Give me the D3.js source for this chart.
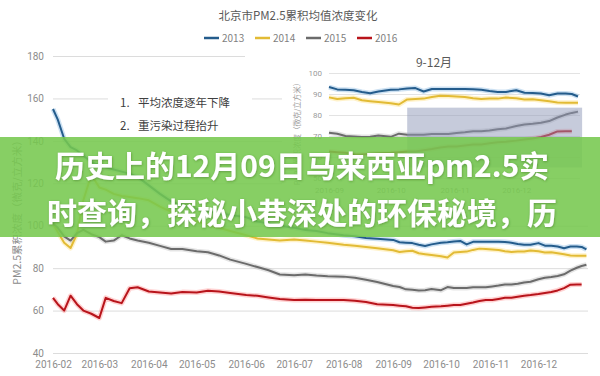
<!DOCTYPE html>
<html>
<head>
<meta charset="utf-8">
<script src="https://cdn.jsdelivr.net/npm/d3@7"></script>
<style>
  body { margin: 0; background: #fff; }
  svg { display: block; font-family: "Noto Sans CJK SC", "Noto Sans", sans-serif; }
</style>
</head>
<body>
<svg id="chart" width="600" height="376"></svg>
<script>
// days of 2016 (MM-DD) shared by all series
const days = [
  "02-01","02-04","02-08","02-12","02-16","02-20","02-25",
  "03-01","03-05","03-10","03-15","03-20","03-25",
  "04-01","04-08","04-15","04-22",
  "05-01","05-08","05-15","05-22",
  "06-01","06-08","06-15","06-22",
  "07-01","07-08","07-15","07-22",
  "08-01","08-08","08-15","08-22",
  "09-01","09-05","09-09","09-13","09-17","09-21","09-25",
  "10-01","10-05","10-09","10-13","10-17","10-21","10-25","10-29",
  "11-02","11-06","11-10","11-14","11-18","11-22","11-26",
  "12-01","12-05","12-09","12-13","12-17","12-21","12-25","12-28","12-31"
];
const pm2013 = [155,150,141,137,135.5,133,130, 128.5,127.5,126.5,125.5,124.5,123, 119,115,111.5,109.5,
  108,107,106,105, 104,102,101,100, 99,98,97.5,96.5, 95.5,95,94.2,93.8,
  93.3,92.2,92,91.8,91,90.4,91.2, 92,92.2,92.6,92.8,91.2,92.4,92.4,92.4,
  92.4,92.4,92.3,92,91.4,91,91, 91.8,90.6,90.5,90.2,89.4,90.2,90.2,90,88.8];
const pm2014 = [101,97,92,89.5,96,112,124, 118,117,115,114,113.5,113, 112,109,106.5,104,
  102,100.5,99,97.5, 95.5,94,93.5,93, 93.5,93,92.5,92, 91,90.5,90,89.4,
  88.4,87.6,88,88.2,87,86.6,86.2, 85.6,85,87.4,87.6,87.8,88.6,89.2,89,
  88.8,88.6,88,87.6,87.8,87.8,88.3, 88,87.4,87.5,87,86.5,86,85.8,85.8,85.8];
const pm2015 = [101,99,95,93,96.5,98,96, 94.6,92.5,93,95.5,94,93, 92,90.5,89,89,
  88,87.5,86,84, 82,80.5,79,77, 76.7,77,76.5,76.2, 76,75.5,74.5,73.5,
  71.6,71.1,70,69.8,69.5,69.6,70.2, 69.6,71.1,70.6,70.6,70.6,71,71,71,
  71.4,71.8,72.3,72.3,72.6,73.2,73.6, 74.8,75.5,75.8,76.3,77.1,78.8,80.2,81,81.6];
const pm2016 = [66,63,60,67,63,60,58.5, 56.5,66,64.5,63.5,70.5,71, 69,68.5,68,68.7,
  68.5,69.3,69,68.3, 67.3,67,66.2,65.5, 65,65.1,65,65, 65,64.6,64,63,
  62.6,62.3,62,61.3,61.2,61.5,61.8, 62,62.3,62.6,62.6,63.2,63.8,64.5,65,
  65,65.5,66,66,66.5,67,67.3, 67.8,68.3,68.8,69.5,70.6,72.2,72.3,72.3,null];

const seriesNames = ["2013", "2014", "2015", "2016"];
const seriesColors = ["#245c8c", "#e2bb35", "#6b6b6b", "#b8141b"];
const haloColors = ["#5b9bd5", "#ffd54f", "#a5a5a5", "#ff6b6b"];
const yTicks = [40, 60, 80, 100, 120, 140, 160, 180];
const insetYTicks = [50, 60, 70, 80, 90, 100];
const monthTicks = ["2016-02-01","2016-03-01","2016-04-01","2016-05-01","2016-06-01","2016-07-01",
  "2016-08-01","2016-09-01","2016-10-01","2016-11-01","2016-12-01"];
const insetMonthTicks = ["2016-09-01","2016-10-01","2016-11-01","2016-12-01"];
const highlightDays = ["2016-10-09", "2017-01-02"];
const highlightVals = [55, 83.5];
const notes = ["1.", "2."];
const noteTexts = ["平均浓度逐年下降", "重污染过程抬升"];
const bannerLines = ["历史上的12月09日马来西亚pm2.5实", "时查询，探秘小巷深处的环保秘境，历"];

const parse = d3.timeParse("%Y-%m-%d");
const dates = days.map(d => parse("2016-" + d));
const series = [pm2013, pm2014, pm2015, pm2016].map((vals, i) => ({
  name: seriesNames[i],
  color: seriesColors[i],
  halo: haloColors[i],
  values: vals.map((v, j) => ({ date: dates[j], value: v }))
}));

const svg = d3.select("#chart");
const fmt = d3.timeFormat("%Y-%m");

// ---- main chart
const x = d3.scaleTime().domain([parse("2016-02-01"), parse("2017-01-01")]).range([53, 588]);
const y = d3.scaleLinear().domain([40, 180]).range([353, 56]);

svg.append("text").attr("x", 298).attr("y", 20).attr("text-anchor", "middle")
  .style("font-size", "11.5px").style("fill", "#595959").text("北京市PM2.5累积均值浓度变化");

const legend = svg.append("g").attr("transform", "translate(204,38)");
const li = legend.selectAll("g").data(series).join("g")
  .attr("transform", (d, i) => `translate(${i * 51},0)`);
li.append("line").attr("x1", 0).attr("x2", 15)
  .attr("stroke", d => d.color).attr("stroke-width", 2.5);
li.append("text").attr("x", 18).attr("dy", "0.35em")
  .style("font-size", "10px").style("fill", "#7f7f7f").text(d => d.name);

const yAxis = svg.append("g").attr("transform", "translate(53,0)")
  .call(d3.axisLeft(y).tickValues(yTicks).tickSize(-535).tickPadding(9));
yAxis.select(".domain").remove();
yAxis.selectAll("line").attr("stroke", "#dcdcdc");
yAxis.selectAll("text").style("font-size", "10px").style("fill", "#8c8c8c")
  .style("font-family", "Roboto, sans-serif");

const xAxis = svg.append("g").attr("transform", "translate(0,353)")
  .call(d3.axisBottom(x).tickValues(monthTicks.map(parse)).tickFormat(fmt).tickSize(0).tickPadding(8));
xAxis.select(".domain").remove();
xAxis.selectAll("text").style("font-size", "10px").style("fill", "#8c8c8c")
  .style("font-family", "Roboto, sans-serif");

svg.append("text")
  .attr("transform", "translate(17,210) rotate(-90)")
  .attr("text-anchor", "middle").attr("dy", "0.35em")
  .style("font-size", "10.5px").style("fill", "#8c8c8c")
  .text("PM2.5累积浓度（微克/立方米）");

const line = d3.line().defined(d => d.value != null)
  .x(d => x(d.date)).y(d => y(d.value));

const lines = svg.append("g").attr("fill", "none").attr("stroke-linejoin", "round");
lines.selectAll(".halo").data(series).join("path").attr("class", "halo")
  .attr("d", d => line(d.values)).attr("stroke", d => d.halo)
  .attr("stroke-width", 5).attr("stroke-opacity", 0.3);
lines.selectAll(".ln").data(series).join("path").attr("class", "ln")
  .attr("d", d => line(d.values)).attr("stroke", d => d.color).attr("stroke-width", 2);

// annotation box
const note = svg.append("g");
note.append("rect").attr("x", 108).attr("y", 88).attr("width", 144).attr("height", 48).attr("fill", "#fff");
notes.forEach((n, i) => {
  note.append("text").attr("x", 120).attr("y", 107 + i * 23)
    .style("font-size", "11.5px").style("fill", "#404040").text(n);
  note.append("text").attr("x", 138).attr("y", 107 + i * 23)
    .style("font-size", "11.5px").style("fill", "#404040").text(noteTexts[i]);
});

// ---- inset 9-12
const inset = svg.append("g");
inset.append("rect").attr("x", 282).attr("y", 47).attr("width", 318).attr("height", 165).attr("fill", "#fff");
inset.append("rect").attr("x", 245).attr("y", 50).attr("width", 40).attr("height", 12).attr("fill", "#fff");

const xi = d3.scaleTime().domain([parse("2016-09-01"), parse("2016-12-31")]).range([329, 578]);
const yi = d3.scaleLinear().domain([50, 100]).range([178, 73]);

inset.append("text").attr("x", 434).attr("y", 67).attr("text-anchor", "middle")
  .style("font-size", "12px").style("fill", "#595959").text("9-12月");

const yiAxis = inset.append("g").attr("transform", "translate(329,0)")
  .call(d3.axisLeft(yi).tickValues(insetYTicks).tickSize(-251).tickPadding(7));
yiAxis.select(".domain").remove();
yiAxis.selectAll("line").attr("stroke", "#e3e3e3");
yiAxis.selectAll("text").style("font-size", "8px").style("fill", "#9a9a9a")
  .style("font-family", "Roboto, sans-serif");

const xiAxis = inset.append("g").attr("transform", "translate(0,183)")
  .call(d3.axisBottom(xi).tickValues(insetMonthTicks.map(parse)).tickFormat(fmt).tickSize(0).tickPadding(4));
xiAxis.select(".domain").remove();
xiAxis.selectAll("text").style("font-size", "8px").style("fill", "#9a9a9a")
  .style("font-family", "Roboto, sans-serif");

inset.append("text")
  .attr("transform", "translate(297,132) rotate(-90)")
  .attr("text-anchor", "middle").attr("dy", "0.35em")
  .style("font-size", "7.5px").style("fill", "#9a9a9a")
  .text("PM2.5累积浓度（微克/立方米）");

const lineI = d3.line().defined(d => d.value != null)
  .x(d => xi(d.date)).y(d => yi(d.value));
const insetSeries = series.map(s => ({ ...s, values: s.values.filter(v => v.date >= parse("2016-09-01")) }));
const il = inset.append("g").attr("fill", "none").attr("stroke-linejoin", "round");
il.selectAll(".halo").data(insetSeries).join("path").attr("class", "halo")
  .attr("d", d => lineI(d.values)).attr("stroke", d => d.halo)
  .attr("stroke-width", 5).attr("stroke-opacity", 0.3);
il.selectAll(".ln").data(insetSeries).join("path").attr("class", "ln")
  .attr("d", d => lineI(d.values)).attr("stroke", d => d.color).attr("stroke-width", 2);

const hx = highlightDays.map(parse);
inset.append("rect")
  .attr("x", xi(hx[0])).attr("y", yi(highlightVals[1]))
  .attr("width", xi(hx[1]) - xi(hx[0])).attr("height", yi(highlightVals[0]) - yi(highlightVals[1]))
  .attr("fill", "#8e98b8").attr("fill-opacity", 0.5);

// ---- green banner
const defs = svg.append("defs");
const f = defs.append("filter").attr("id", "sh").attr("x", "-5%").attr("y", "-20%").attr("width", "110%").attr("height", "140%");
f.append("feDropShadow").attr("dx", 0.5).attr("dy", 0.8).attr("stdDeviation", 0.8)
  .attr("flood-color", "#2d5a1a").attr("flood-opacity", 0.45);

svg.append("rect").attr("x", 0).attr("y", 137).attr("width", 600).attr("height", 100)
  .attr("fill", "#76c84f").attr("fill-opacity", 0.88);

svg.append("g").selectAll("text").data(bannerLines).join("text")
  .attr("x", 302).attr("y", (d, i) => 164 + i * 47)
  .attr("text-anchor", "middle").attr("dominant-baseline", "central")
  .attr("filter", "url(#sh)")
  .style("font-size", "30px").style("font-weight", "700").style("fill", "#fff")
  .text(d => d);
</script>
</body>
</html>
